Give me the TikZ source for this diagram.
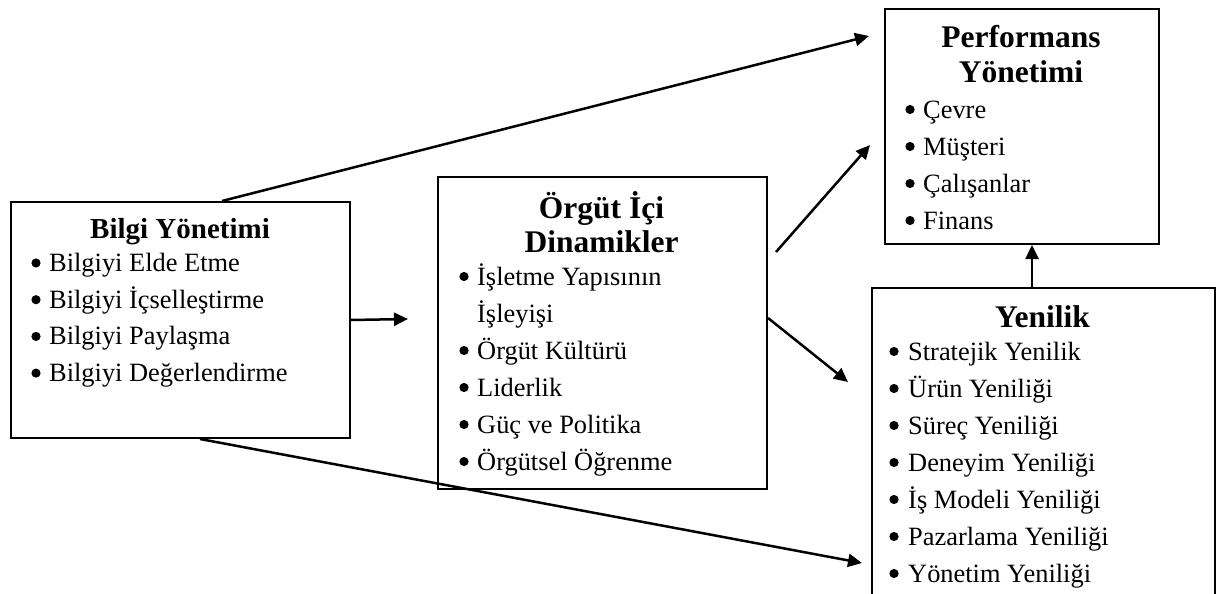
\documentclass[tikz,border=0pt]{standalone}
\usepackage{fontspec}
\setmainfont{Liberation Serif}
\usetikzlibrary{arrows.meta,calc}
\begin{document}
\begin{tikzpicture}[x=1pt,y=-1pt,
  box/.style={draw,line width=2pt,rectangle,anchor=north west,inner sep=0pt},
  title/.style={font=\fontsize{31.5}{34}\selectfont\bfseries,anchor=base,inner sep=0pt},
  item/.style={font=\fontsize{26.4}{36.7}\selectfont,anchor=base west,inner sep=0pt},
  arr/.style={line width=2.5pt,-{Triangle[length=14pt,width=13pt]}},
  bul/.style={fill=black}]
\useasboundingbox (0,0) rectangle (1224,594);
\clip (0,0) rectangle (1224,594);

% frames
\node[box,minimum width=339pt,minimum height=236pt] (bilgi) at (10,201) {};
\node[box,minimum width=329pt,minimum height=312pt] (org) at (437,176) {};
\node[box,minimum width=274pt,minimum height=235pt] (perf) at (884,8) {};
\node[box,minimum width=343pt,minimum height=330pt] (yen) at (871,287) {};

% headings
\node[title,font=\fontsize{29}{32}\selectfont\bfseries] (bilgiT) at (180,238) {Bilgi Yönetimi};
\node[title] (orgT1) at (601.5,218) {Örgüt İçi};
\node[title] (orgT2) at (601.5,252) {Dinamikler};
\node[title] (perfT1) at (1021,48) {Performans};
\node[title] (perfT2) at (1021,83) {Yönetimi};
\node[title] (yenT) at (1042.5,327) {Yenilik};

% bulleted lists
\foreach \t [count=\i] in {Bilgiyi Elde Etme,Bilgiyi İçselleştirme,Bilgiyi Paylaşma,Bilgiyi Değerlendirme}{
  \node[item] (bi\i) at (49,{271.5+36.7*(\i-1)}) {\t};
  \fill[bul] ($(bi\i.base west)+(-13,-8.5)$) circle (4.6pt);
}
\node[item] (or1) at (477,285) {İşletme Yapısının};
\node[item] (or1b) at (477,322) {İşleyişi};
\foreach \t [count=\i from 2] in {Örgüt Kültürü,Liderlik,Güç ve Politika,Örgütsel Öğrenme}{
  \node[item] (or\i) at (477,{359+37*(\i-2)}) {\t};
}
\foreach \i in {1,...,5}{\fill[bul] ($(or\i.base west)+(-13,-8.5)$) circle (4.6pt);}
\foreach \t [count=\i] in {Çevre,Müşteri,Çalışanlar,Finans}{
  \node[item] (pe\i) at (923,{118+37*(\i-1)}) {\t};
  \fill[bul] ($(pe\i.base west)+(-13,-8.5)$) circle (4.6pt);
}
\foreach \t [count=\i] in {Stratejik Yenilik,Ürün Yeniliği,Süreç Yeniliği,Deneyim Yeniliği,İş Modeli Yeniliği,Pazarlama Yeniliği,Yönetim Yeniliği}{
  \node[item] (ye\i) at (908,{360+37*(\i-1)}) {\t};
  \fill[bul] ($(ye\i.base west)+(-14,-8.5)$) circle (4.6pt);
}

% connectors
\coordinate (bTop) at ($(bilgi.north west)+(212,0)$);
\coordinate (bBot) at ($(bilgi.south west)+(190,0)$);
\coordinate (oIn) at (408,319);
\coordinate (oUp) at (776,252);
\coordinate (oDown) at ($(org.north east)+(0,142)$);
\coordinate (pIn1) at (869,36);
\coordinate (pIn2) at (870,145);
\coordinate (yIn1) at (848,382);
\coordinate (yIn2) at (862,563);
\coordinate (yUp) at (1032,287);

\draw[arr] (bTop) -- (pIn1);
\draw[arr] (bilgi.east) -- (oIn);
\draw[arr] (bBot) -- (yIn2);
\draw[arr] (oUp) -- (pIn2);
\draw[arr] (oDown) -- (yIn1);
\draw[arr] (yUp) -- (yUp |- perf.south);
\end{tikzpicture}
\end{document}
